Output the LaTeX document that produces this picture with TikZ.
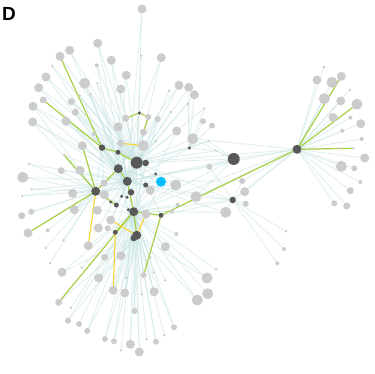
\documentclass[tikz,border=0pt]{standalone}
\usepackage{fontspec}
\setsansfont{Liberation Sans}
\definecolor{cgray}{RGB}{204,204,204}
\definecolor{cdark}{RGB}{88,88,88}
\definecolor{ccyan}{RGB}{0,191,255}
\definecolor{cedge}{RGB}{200,228,228}
\definecolor{cgreen}{RGB}{168,208,72}
\definecolor{cyel}{RGB}{248,214,62}
\pgfdeclarelayer{bgpaper}
\pgfdeclarelayer{edges}
\pgfdeclarelayer{hl}
\pgfsetlayers{bgpaper,edges,hl,main}
\tikzset{
 vx/.style={circle,inner sep=0pt,outer sep=0pt,draw=none},
 nG/.style={vx,fill=cgray,minimum size=11pt},
 ng/.style={vx,fill=cgray,minimum size=9pt},
 nm/.style={vx,fill=cgray,minimum size=7pt},
 ns/.style={vx,fill=cgray,minimum size=6pt},
 nu/.style={vx,fill=cgray,minimum size=4pt},
 nt/.style={vx,fill=cgray,minimum size=2.6pt},
 nD/.style={vx,fill=cdark,minimum size=12pt},
 nd/.style={vx,fill=cdark,minimum size=9pt},
 ne/.style={vx,fill=cdark,minimum size=6.5pt},
 nee/.style={vx,fill=cdark,minimum size=5pt},
 nf/.style={vx,fill=cdark,minimum size=3.4pt},
 ncy/.style={vx,fill=ccyan,minimum size=10pt},
 le/.style={draw=cedge,line width=0.85pt,opacity=0.55},
 lg/.style={draw=cgreen,line width=1.2pt},
 ly/.style={draw=cyel,line width=1.2pt},
}
\begin{document}
\begin{tikzpicture}[x=1pt,y=-1pt]
\begin{pgfonlayer}{bgpaper}
\fill[white] (0,0) rectangle (374,374);
\end{pgfonlayer}
\useasboundingbox (0,0) rectangle (374,374);
\node[font=\fontsize{19}{19}\selectfont\bfseries\sffamily,anchor=base west,inner sep=0pt] (lbl) at (2,20.7) {D};
% top / upper-left
\node[ng] (a1) at (142,9) {};
\node[ng] (a2) at (97.7,43.3) {};
\node[ng] (a3) at (69.7,50.3) {};
\node[ng] (a4) at (60,56.3) {};
\node[nt] (a5) at (141.3,55.7) {};
\node[ng] (a6) at (161.3,57.7) {};
\node[ng] (a7) at (111.3,60.3) {};
\node[nt] (a8) at (52.3,66) {};
\node[nu] (a9) at (96.7,65.3) {};
\node[ng] (a10) at (46,77) {};
\node[nG] (a11) at (84.7,83.3) {};
\node[ng] (a12) at (126.3,75.3) {};
\node[ng] (a13) at (38.7,87.7) {};
\node[nt] (a14) at (97.3,83.3) {};
\node[nt] (a15) at (79.7,95.3) {};
\node[ng] (a16) at (120.7,89) {};
\node[nt] (a17) at (90.3,94.3) {};
\node[nm] (a18) at (43.3,100) {};
\node[nm] (a19) at (71.3,101.7) {};
\node[ng] (a20) at (33,106.3) {};
\node[nm] (a21) at (75.3,112.3) {};
\node[ng] (a22) at (179,85.3) {};
\node[nt] (a23) at (169.3,90.7) {};
\node[ng] (a24) at (32.7,122) {};
\node[ng] (a25) at (66,121.3) {};
\node[nf] (a26) at (139.3,113) {};
\node[nm] (a27) at (125.7,118.3) {};
\node[ns] (a28) at (148.3,117) {};
\node[ns] (a29) at (157.7,119) {};
\node[nt] (a30) at (170.7,112) {};
\node[ng] (a31) at (118,127) {};
\node[ng] (a32) at (176.7,131) {};
\node[nm] (a33) at (143.3,132.3) {};
\node[nu] (a34) at (94,134) {};
\node[ng] (a35) at (82.3,145.7) {};
\node[ne] (a36) at (102,147.7) {};
\node[nm] (a37) at (120.7,143.3) {};
\node[nG] (a38) at (143.3,145.7) {};
\node[nt] (a39) at (155.7,141.3) {};
\node[nee] (a40) at (118,152.3) {};
\node[nt] (a41) at (64,154.7) {};
\node[nD] (a42) at (136.7,162.7) {};
\node[ne] (a43) at (145.7,163) {};
\node[nd] (a44) at (118.3,168.7) {};
\node[nt] (a45) at (29,164) {};
\node[nm] (a46) at (61.3,170.7) {};
\node[ng] (a47) at (80,170.3) {};
\node[nf] (a48) at (155.7,174) {};
\node[ncy] (a49) at (161,181.7) {};
\node[nG] (a50) at (22.7,177.3) {};
\node[nd] (a51) at (127.3,181.3) {};
\node[nG] (a52) at (175.7,185) {};
\node[nm] (a53) at (104,183) {};
\node[nee] (a54) at (145.7,185) {};
% right-of-centre
\node[ng] (b1) at (188.7,87.3) {};
\node[ng] (b2) at (194.3,94.7) {};
\node[nt] (b3) at (188,104) {};
\node[nt] (b4) at (204.3,108.3) {};
\node[ns] (b5) at (203,121.3) {};
\node[ns] (b6) at (212,125.7) {};
\node[nG] (b7) at (192.7,138.7) {};
\node[nt] (b8) at (208.3,141) {};
\node[nf] (b9) at (189.3,148) {};
\node[nt] (b10) at (216,150.7) {};
\node[nD] (b11) at (233.7,159) {};
\node[ns] (b12) at (209.3,166.7) {};
\node[ns] (b13) at (242.3,181) {};
% right star
\node[nd] (H) at (297,149.3) {};
\node[nt] (r1) at (324,67) {};
\node[ng] (r2) at (317,80) {};
\node[nG] (r3) at (332,82.3) {};
\node[ng] (r4) at (341.3,76.3) {};
\node[nt] (r5) at (349.7,90) {};
\node[nG] (r6) at (324.3,98.7) {};
\node[ng] (r7) at (340.7,101) {};
\node[nG] (r8) at (357,104.3) {};
\node[ng] (r9) at (333,117.3) {};
\node[nu] (r10) at (350.3,117.7) {};
\node[ng] (r11) at (360.7,123.7) {};
\node[nu] (r12) at (342.3,130.7) {};
\node[nu] (r13) at (361.7,139) {};
\node[nt] (r14) at (339,148.3) {};
\node[nt] (r15) at (353.3,148.3) {};
\node[ng] (r16) at (364.7,158) {};
\node[nG] (r17) at (341.3,166.3) {};
\node[ns] (r18) at (354.3,168.3) {};
\node[nu] (r19) at (360.3,182) {};
\node[nm] (r20) at (350.3,190.7) {};
\node[ns] (r21) at (334.3,203.3) {};
\node[nm] (r22) at (346.7,206) {};
% lower right
\node[nG] (c1) at (196,196.7) {};
\node[ne] (c2) at (232.7,200) {};
\node[ng] (c3) at (244.7,191.7) {};
\node[ns] (c4) at (245.7,203.7) {};
\node[nG] (c5) at (225.7,212.3) {};
\node[nt] (c6) at (286,231.3) {};
\node[nu] (c7) at (284,249) {};
\node[nu] (c8) at (277.3,263.3) {};
\node[nt] (c9) at (216,269.3) {};
\node[nG] (c10) at (207,278) {};
\node[nG] (c11) at (207.7,293.7) {};
\node[nG] (c12) at (197.3,300) {};
% lower left / bottom
\node[nd] (d1) at (95.7,191.3) {};
\node[ng] (d2) at (72.7,193.3) {};
\node[ng] (d3) at (104.3,194.7) {};
\node[ne] (d4) at (131,192.3) {};
\node[ng] (d5) at (150.3,190.3) {};
\node[nt] (d6) at (31.7,189.3) {};
\node[nt] (d7) at (22.3,196) {};
\node[nf] (d8) at (121.7,196.3) {};
\node[nf] (d9) at (127,197.3) {};
\node[nf] (d10) at (110.7,202) {};
\node[nee] (d11) at (116.3,205) {};
\node[ng] (d12) at (74.3,209.7) {};
\node[ng] (d13) at (97.3,210.3) {};
\node[nd] (d14) at (133.7,211.7) {};
\node[nf] (d15) at (128.3,209.7) {};
\node[ng] (d16) at (146,214) {};
\node[nu] (d17) at (177.7,204.7) {};
\node[nu] (d18) at (172,211.7) {};
\node[nee] (d19) at (161,215.3) {};
\node[nm] (d20) at (21.7,215.7) {};
\node[ns] (d21) at (31.3,211.7) {};
\node[ng] (d22) at (110.7,220) {};
\node[ng] (d23) at (98.3,228) {};
\node[ns] (d24) at (107.7,228.3) {};
\node[nee] (d25) at (115.3,232.3) {};
\node[nd] (d26) at (136.7,235.3) {};
\node[ne] (d27) at (133.7,238) {};
\node[ng] (d28) at (28,233) {};
\node[nu] (d29) at (47.7,230.3) {};
\node[nu] (d30) at (176.3,234) {};
\node[nt] (d31) at (63.3,240.3) {};
\node[ng] (d32) at (88.3,245.7) {};
\node[ng] (d33) at (121,255.7) {};
\node[nm] (d34) at (104.7,257.3) {};
\node[ng] (d35) at (165.3,246.7) {};
\node[nt] (d36) at (45.7,248) {};
\node[nt] (d37) at (50,263.3) {};
\node[nt] (d38) at (81.7,267.7) {};
\node[nt] (d39) at (150.3,257.7) {};
\node[ng] (d40) at (62,272.3) {};
\node[ng] (d41) at (98.7,278) {};
\node[ns] (d42) at (143.7,275) {};
\node[nt] (d43) at (126,277.7) {};
\node[nt] (d44) at (153.7,272.3) {};
\node[nt] (d45) at (165.3,280.3) {};
\node[ng] (d46) at (113.3,290.3) {};
\node[ng] (d47) at (124.7,293) {};
\node[ng] (d48) at (154,291.7) {};
\node[nm] (d49) at (58.7,302.3) {};
\node[nt] (d50) at (141.7,294.3) {};
\node[nt] (d51) at (71,307.7) {};
\node[ns] (d52) at (134.7,311) {};
\node[ns] (d53) at (68,320.7) {};
\node[ns] (d54) at (79,324) {};
\node[ns] (d55) at (87.3,331) {};
\node[ns] (d56) at (174,327.3) {};
\node[nt] (d57) at (164.3,335.3) {};
\node[ns] (d58) at (105,339) {};
\node[ns] (d59) at (114,341.3) {};
\node[ng] (d60) at (130.3,344.3) {};
\node[nt] (d61) at (146.7,339.3) {};
\node[ns] (d62) at (156,341.7) {};
\node[nt] (d63) at (121,350.3) {};
\node[ng] (d64) at (139.3,352) {};

\begin{pgfonlayer}{edges}
\foreach \n in {a1,a2,a3,a4,a5,a6,a7,a8,a9,a10,a11,a12,a13,a14,a15,a16,a17,a19,a20,a21,a22,a23,a25,a27,a28,a29,a30,a31,a32,a33,a34,a37,a38,a39,b1,b2,b3,b4,b7,b8,b10}
  \draw[le] (a42) -- (\n);
\foreach \n in {a2,a3,a7,a10,a11,a13,a19,a20,a21,a24,a25,a31,a34,a35,a37,a41,a45,a46,a47,a50,d2,d6,d7,d12,b12,b13,c1,c5}
  \draw[le] (a51) -- (\n);
\foreach \n in {a45,a46,a47,a50,d2,d6,d7,d12,d20,d21,d28,d29,d31,d36,d37,a35,a41,a24,a20}
  \draw[le] (d1) -- (\n);
\foreach \n in {a6,a12,a16,a22,a29,a33,a9,a14,a17,a15,a8,a24,a25}
  \draw[le] (a44) -- (\n);
\foreach \n in {d32,d33,d34,d35,d38,d39,d40,d41,d42,d43,d44,d45,d46,d47,d48,d50,d51,d52,d53,d54,d55,d56,d57,d58,d59,d60,d61,d62,d63,d64,c9,c10,c11,c12,d30,d17,d18,c5}
  \draw[le] (d14) -- (\n);
\foreach \n in {d33,d34,d41,d46,d47,d52,d53,d55,d58,d59,d60,d62,d64,d48,d56,c10,c12,d40,d49}
  \draw[le] (d26) -- (\n);
\foreach \n in {r1,r2,r3,r4,r5,r6,r7,r8,r9,r10,r11,r12,r13,r14,r15,r16,r17,r18,r19,r20,r21,r22,b13,c1,c3,b7,b11,a42,a51,d14,c2}
  \draw[le] (H) -- (\n);
\foreach \n in {c6,c7,c8,c3,c4,c5,c1,b12,b13,a42,d14,a51,d19}
  \draw[le] (c2) -- (\n);
\foreach \n in {b5,b6,b1,b2,b3,b4,b7,b8,b10,a42,a51}
  \draw[le] (b9) -- (\n);
\foreach \n in {b7,b12,b10,b8,a42,a51,d14,c1}
  \draw[le] (b11) -- (\n);
\foreach \a/\b in {a36/a42,a36/a51,a36/d1,a40/a51,a42/a51,a42/d14,a51/d14,d1/d14,a44/d14,a43/d14,a43/a51,a54/d14,d4/a42,d11/a42,d25/a42,d26/a42,d19/a42,a48/d1,a49/d1,a49/a44,a49/d26,a52/d1,a52/a44,d5/a44,d16/a36,a38/d26,d3/a42,d22/a42,d23/a42,d24/a42,d13/a42,d33/a42,a53/a42,d3/a36,d13/d19,d8/a42,d9/a36,d10/a42,d15/a44,d27/a44,a26/a42,a26/a51,a1/a51,a49/a42,a52/d14,d5/d14,a32/d14,a29/d14}
  \draw[le] (\a) -- (\b);
\end{pgfonlayer}

\begin{pgfonlayer}{hl}
\foreach \a/\b in {a4/a36,a18/a36,a41/d1,a35/d1,a36/a40,a40/a42,a26/a27,a26/a28,a28/a33,H/r4,H/r8,H/r15,H/d19,d28/d1,d49/d14,d19/d42,d25/d14,d1/a44,d14/d19,d14/d26,a44/a51,a51/d14,d1/d11}
  \draw[lg] (\a) -- (\b);
\foreach \a/\b in {d1/d32,d25/d46,d26/d16,d22/d26,a37/a38}
  \draw[ly] (\a) -- (\b);
\end{pgfonlayer}
\end{tikzpicture}
\end{document}
